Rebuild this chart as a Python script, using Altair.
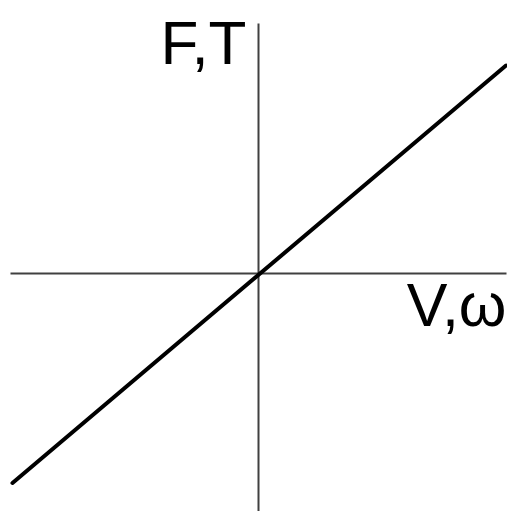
import altair as alt
import pandas as pd

# Values (arbitrary units, origin at the axes crossing)
speed = [-0.99, 1.0]          # V, omega
force = [-0.84, 0.83]         # F, T

x_label = "V,ω"
y_label = "F,T"

df = pd.DataFrame({"v": speed, "f": force})

W, H = 496, 488
ORIGIN_Y = 250  # pixel distance of y=0 below the top of the plot

x_scale = alt.Scale(domain=[-1, 1], nice=False, zero=False)
y_scale = alt.Scale(domain=[-(H - ORIGIN_Y) / ORIGIN_Y, 1], nice=False, zero=False)

line = alt.Chart(df).mark_line(
    color="black", strokeWidth=4, strokeCap="round"
).encode(
    x=alt.X("v:Q", scale=x_scale, axis=alt.Axis(
        title=x_label, orient="bottom", offset=ORIGIN_Y - H,
        domain=True, domainColor="#404040", domainWidth=2,
        ticks=False, labels=False, grid=False,
        titleFont="Liberation Sans", titleFontSize=61, titleFontWeight="normal",
        titleColor="black", titleAlign="right", titleBaseline="alphabetic",
        titleX=496, titleY=52, titleAngle=0,
    )),
    y=alt.Y("f:Q", scale=y_scale, axis=alt.Axis(
        title=y_label, orient="left", offset=-W / 2,
        domain=True, domainColor="#404040", domainWidth=2,
        ticks=False, labels=False, grid=False,
        titleFont="Liberation Sans", titleFontSize=62, titleFontWeight="normal",
        titleColor="black", titleAlign="right", titleBaseline="alphabetic",
        titleX=-12, titleY=40, titleAngle=0,
    )),
)

chart = line.properties(
    width=W, height=H,
    padding={"left": 2, "top": 15, "right": 1, "bottom": 0},
    autosize=alt.AutoSizeParams(type="none"),
    background="white",
).configure_view(strokeWidth=0, stroke="transparent")

chart.save("out.html", embed_options={"renderer": "svg", "actions": False})
